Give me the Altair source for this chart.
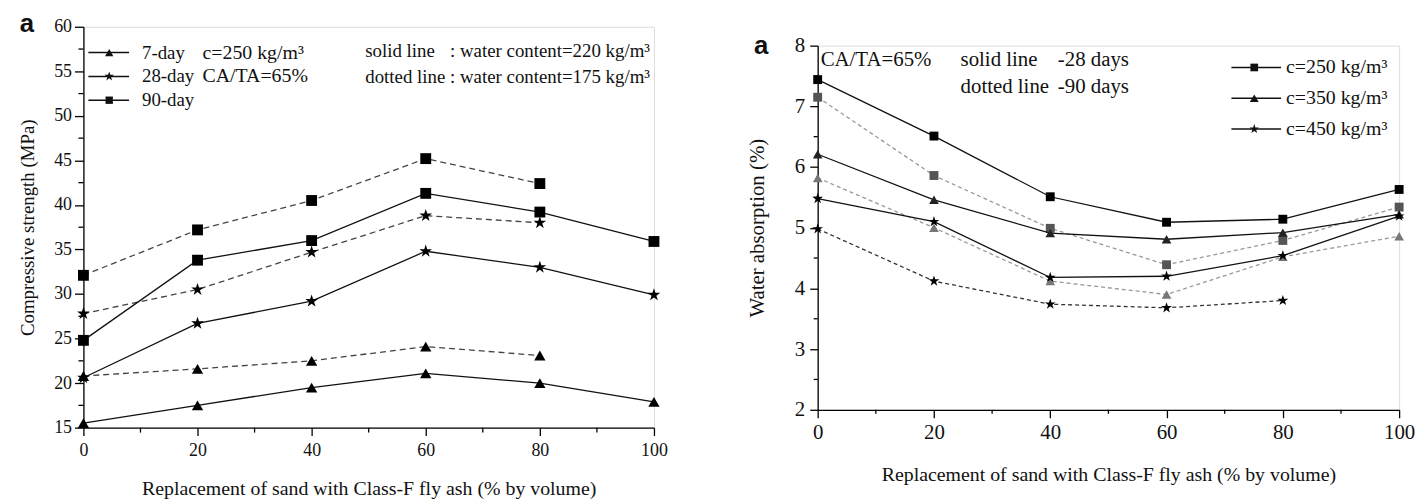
import altair as alt
import pandas as pd

SERIF = "Liberation Serif"

# ---------------- data ----------------
x_full = [0, 20, 40, 60, 80, 100]
x_part = [0, 20, 40, 60, 80]

# left panel: compressive strength (MPa)
cs_7_solid = [15.5, 17.5, 19.5, 21.1, 20.0, 17.9]
cs_7_dotted = [20.8, 21.6, 22.5, 24.1, 23.1]
cs_28_solid = [20.6, 26.7, 29.2, 34.8, 33.0, 29.9]
cs_28_dotted = [27.8, 30.5, 34.7, 38.8, 38.0]
cs_90_solid = [24.8, 33.8, 36.0, 41.3, 39.2, 35.9]
cs_90_dotted = [32.1, 37.2, 40.5, 45.2, 42.4]

# right panel: water absorption (%)
wa_250_28 = [7.44, 6.51, 5.51, 5.09, 5.14, 5.63]
wa_250_90 = [7.15, 5.86, 4.99, 4.39, 4.79, 5.34]
wa_350_28 = [6.21, 5.46, 4.91, 4.81, 4.92, 5.22]
wa_350_90 = [5.82, 5.00, 4.12, 3.90, 4.52, 4.86]
wa_450_28 = [5.48, 5.10, 4.18, 4.20, 4.54, 5.19]
wa_450_90 = [4.98, 4.12, 3.74, 3.68, 3.80]

# axis ticks
x_major = [0, 20, 40, 60, 80, 100]
x_minor = [10, 30, 50, 70, 90]
left_y_major = [15, 20, 25, 30, 35, 40, 45, 50, 55, 60]
left_y_minor = [17.5, 22.5, 27.5, 32.5, 37.5, 42.5, 47.5, 52.5, 57.5]
right_y_major = [2, 3, 4, 5, 6, 7, 8]
right_y_minor = [2.5, 3.5, 4.5, 5.5, 6.5, 7.5]

left_legend_labels = ["7-day", "28-day", "90-day"]
left_notes = ["c=250 kg/m³", "CA/TA=65%"]
left_line_keys = ["solid line", "dotted line"]
left_line_vals = [": water content=220 kg/m³", ": water content=175 kg/m³"]
right_legend_labels = ["c=250 kg/m³", "c=350 kg/m³", "c=450 kg/m³"]
right_notes = ["CA/TA=65%", "solid line", "dotted line"]
right_note_vals = ["-28 days", "-90 days"]
panel_letter = "a"

x_title = "Replacement of sand with Class-F fly ash (% by volume)"
left_y_title = "Compressive strength (MPa)"
right_y_title = "Water absorption (%)"

STAR = ("M0,-1L0.2245,-0.309L0.9511,-0.309L0.3633,0.118L0.5878,0.809L0,0.382"
        "L-0.5878,0.809L-0.3633,0.118L-0.9511,-0.309L-0.2245,-0.309Z")
SQUARE = "square"
TRI = "triangle-up"


def make_axis(title, values, tick, label_size, title_size, title_pad, label_pad):
    return alt.Axis(
        values=values, format="d", tickSize=tick,
        title=title, grid=False,
        domainColor="black", domainWidth=1.3,
        tickColor="black", tickWidth=1.3,
        labelFont=SERIF, labelFontSize=label_size, labelColor="#111",
        labelPadding=label_pad, labelFlush=False, labelOverlap=False,
        titleFont=SERIF, titleFontSize=title_size, titleFontWeight="normal",
        titleColor="#111", titlePadding=title_pad,
    )


def series(xs, ys, xenc, yenc, shape, size, line_color, point_color, dash):
    df = pd.DataFrame({"x": xs, "y": ys})
    base = alt.Chart(df)
    lkw = dict(color=line_color, strokeWidth=1.3)
    if dash:
        lkw["strokeDash"] = dash
    line = base.mark_line(**lkw).encode(x=xenc, y=yenc)
    pts = base.mark_point(filled=True, shape=shape, size=size, color=point_color,
                          opacity=1).encode(x=xenc, y=yenc)
    return [line, pts]


def minor_ticks(xvals, yvals, xenc, yenc, h, tick):
    dx = pd.DataFrame({"x": xvals})
    dy = pd.DataFrame({"y": yvals})
    tx = alt.Chart(dx).mark_rule(color="black", strokeWidth=1.3).encode(
        x=xenc, y=alt.value(h), y2=alt.value(h + tick))
    ty = alt.Chart(dy).mark_rule(color="black", strokeWidth=1.3).encode(
        y=yenc, x=alt.value(-tick), x2=alt.value(0))
    return [tx, ty]


def text_layer(txt, x, y, size=20, align="left", font=SERIF, weight="normal"):
    return alt.Chart(pd.DataFrame({"t": [txt]})).mark_text(
        align=align, baseline="middle", font=font, fontSize=size,
        fontWeight=weight, color="#111"
    ).encode(x=alt.value(x), y=alt.value(y), text="t:N")


def legend_item(shape, size, x1, x2, xm, y, color="#111"):
    d = pd.DataFrame({"k": [0]})
    rule = alt.Chart(d).mark_rule(color=color, strokeWidth=1.5).encode(
        x=alt.value(x1), x2=alt.value(x2), y=alt.value(y))
    pt = alt.Chart(d).mark_point(filled=True, shape=shape, size=size, color=color,
                                 opacity=1).encode(x=alt.value(xm), y=alt.value(y))
    return [rule, pt]


# ---------------- left panel ----------------
LW, LH = 575, 404
lxs = alt.Scale(domain=[0, 100], nice=False)
lys = alt.Scale(domain=[15, 60], nice=False, zero=False)
lx = alt.X("x:Q", scale=lxs, axis=make_axis(x_title, x_major, 8, 18, 20, 19, 6))
ly = alt.Y("y:Q", scale=lys,
           axis=make_axis(left_y_title, left_y_major, 9, 18, 19, 16, 3))

DASH_L = [6, 4]
left_layers = []
left_layers += series(x_full, cs_7_solid, lx, ly, TRI, 130, "#111", "#000", None)
left_layers += series(x_part, cs_7_dotted, lx, ly, TRI, 130, "#444", "#000", DASH_L)
left_layers += series(x_full, cs_28_solid, lx, ly, STAR, 180, "#111", "#000", None)
left_layers += series(x_part, cs_28_dotted, lx, ly, STAR, 180, "#444", "#000", DASH_L)
left_layers += series(x_full, cs_90_solid, lx, ly, SQUARE, 120, "#111", "#000", None)
left_layers += series(x_part, cs_90_dotted, lx, ly, SQUARE, 120, "#444", "#000", DASH_L)
left_layers += minor_ticks(x_minor, left_y_minor, lx, ly, LH, 5)

for i, (lab, shp, sz) in enumerate(zip(left_legend_labels, [TRI, STAR, SQUARE],
                                       [70, 100, 55])):
    yy = 26 + 24 * i
    left_layers += legend_item(shp, sz, 5, 46, 26, yy)
    left_layers.append(text_layer(lab, 59, yy, size=19))
for i, t in enumerate(left_notes):
    left_layers.append(text_layer(t, 120, 26 + 24 * i))
for i, (k, v) in enumerate(zip(left_line_keys, left_line_vals)):
    left_layers.append(text_layer(k, 284, 24 + 27 * i, size=19))
    left_layers.append(text_layer(v, 571, 24 + 27 * i, size=19, align="right"))
left_layers.append(text_layer(panel_letter, -57, -3, size=26, font="Liberation Sans",
                              weight="bold", align="center"))

left = alt.layer(*left_layers).properties(width=LW, height=LH)

# ---------------- right panel ----------------
RW, RH = 586, 367
rxs = alt.Scale(domain=[0, 100], nice=False)
rys = alt.Scale(domain=[2, 8], nice=False, zero=False)
rx = alt.X("x:Q", scale=rxs, axis=make_axis(x_title, x_major, 8, 21, 20, 22, 4))
ry = alt.Y("y:Q", scale=rys,
           axis=make_axis(right_y_title, right_y_major, 8, 21, 21, 27, 5))

DASH_R = [4, 3]
right_layers = []
right_layers += series(x_full, wa_250_28, rx, ry, SQUARE, 80, "#111", "#000", None)
right_layers += series(x_full, wa_250_90, rx, ry, SQUARE, 80, "#999", "#555", DASH_R)
right_layers += series(x_full, wa_350_28, rx, ry, TRI, 95, "#111", "#222", None)
right_layers += series(x_full, wa_350_90, rx, ry, TRI, 95, "#999", "#777", DASH_R)
right_layers += series(x_full, wa_450_28, rx, ry, STAR, 130, "#111", "#000", None)
right_layers += series(x_part, wa_450_90, rx, ry, STAR, 130, "#333", "#000", DASH_R)
right_layers += minor_ticks(x_minor, right_y_minor, rx, ry, RH, 4)

for i, (lab, shp, sz) in enumerate(zip(right_legend_labels, [SQUARE, TRI, STAR],
                                       [60, 80, 100])):
    yy = 22 + 31 * i
    right_layers += legend_item(shp, sz, 417, 467, 440, yy)
    right_layers.append(text_layer(lab, 472, yy, size=20))
right_layers.append(text_layer(right_notes[0], 3, 15, size=21))
for i in range(2):
    right_layers.append(text_layer(right_notes[1 + i], 144, 15 + 27 * i, size=21))
    right_layers.append(text_layer(right_note_vals[i], 242, 15 + 27 * i, size=21))
right_layers.append(text_layer(panel_letter, -57, 0, size=26, font="Liberation Sans",
                               weight="bold", align="center"))

right = alt.layer(*right_layers).properties(width=RW, height=RH)

spacer = alt.Chart(pd.DataFrame({"v": [0]})).mark_point(opacity=0, size=1).encode(
    x=alt.value(0), y=alt.value(0)
).properties(width=RW, height=19, view=alt.ViewBackground(stroke="transparent"))

right_col = alt.vconcat(spacer, right, spacing=0, bounds="flush")

chart = alt.hconcat(left, right_col, spacing=165, bounds="flush").properties(
    padding={"left": 10, "top": 0, "right": 0, "bottom": 0}
).configure_view(stroke="black", strokeWidth=1.3).configure(background="white")

chart.save("out.html", embed_options={"renderer": "svg", "actions": False})
